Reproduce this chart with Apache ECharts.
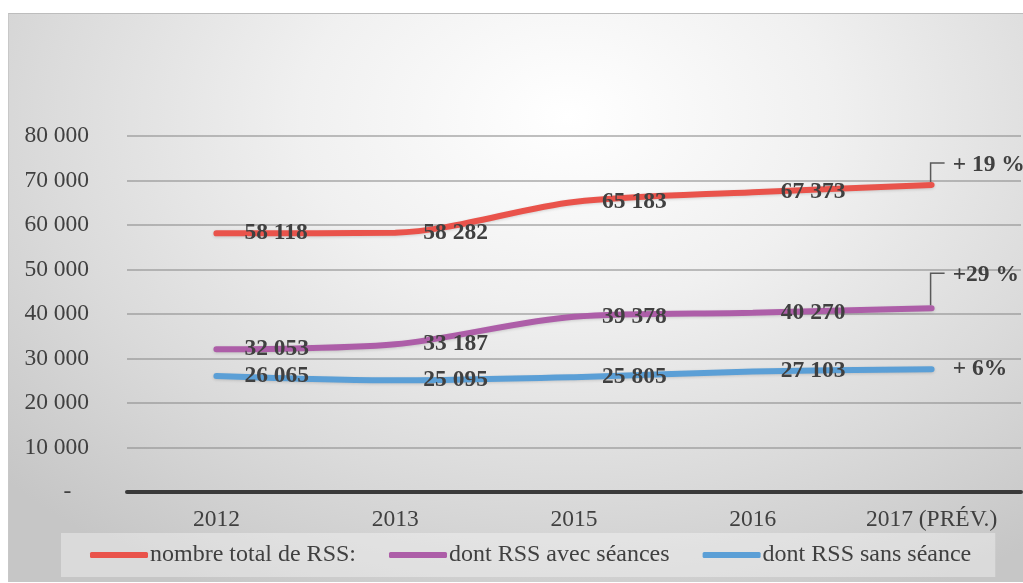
<!DOCTYPE html>
<html>
<head>
<meta charset="utf-8">
<script src="https://cdn.jsdelivr.net/npm/echarts@6/dist/echarts.min.js"></script>
<style>
html,body{margin:0;padding:0;width:1023px;height:583px;background:#fff;overflow:hidden;}
#bg{position:absolute;left:8px;top:13px;width:1015px;height:568px;
 background:radial-gradient(ellipse 75% 95% at 55% 18%, #ffffff 0%, #f0f0f0 35%, #dadada 70%, #c6c6c6 100%);
 border-top:1px solid #bdbdbd;border-left:1px solid #c8c8c8;}
#chart{position:absolute;left:0;top:0;width:1023px;height:583px;}
</style>
</head>
<body>
<div id="bg"></div>
<div id="chart"></div>
<script>
const categories = ['2012', '2013', '2015', '2016', '2017 (PRÉV.)'];
const seriesNames = ['nombre total de RSS:', 'dont RSS avec séances', 'dont RSS sans séance'];
const totalRSS = [58118, 58282, 65183, 67373, 69000];
const avecSeances = [32053, 33187, 39378, 40270, 41300];
const sansSeance = [26065, 25095, 25805, 27103, 27600];
const growthLabels = ['+ 19 %', '+29 %', '+ 6%'];
const yTicks = [0, 10000, 20000, 30000, 40000, 50000, 60000, 70000, 80000];
const colors = ['#e9534b', '#ad5ea8', '#5b9fd6'];

const fmt = v => String(v).replace(/\B(?=(\d{3})+(?!\d))/g, ' ');
const labelOffsets = [[0, -20], [0, -33], [0, 0]];
const leader = [true, true, false];
const dataSets = [totalRSS, avecSeances, sansSeance];
const font = '"Liberation Serif", "Times New Roman", serif';

const chart = echarts.init(document.getElementById('chart'), null, {renderer: 'canvas'});

const series = dataSets.map((d, si) => ({
  name: seriesNames[si],
  type: 'line',
  data: d.map((v, i) => {
    if (i === d.length - 1) {
      return {value: v, label: {formatter: growthLabels[si], distance: 21, offset: labelOffsets[si]}};
    }
    return v;
  }),
  smooth: 0.3,
  symbol: 'circle',
  symbolSize: 0.1,
  color: colors[si],
  lineStyle: {width: 6, color: colors[si], cap: 'round', shadowColor: 'rgba(0,0,0,0.15)', shadowBlur: 3, shadowOffsetY: 1},
  label: {
    show: true,
    position: 'right',
    distance: 28,
    formatter: p => fmt(p.value),
    fontFamily: font,
    fontWeight: 'bold',
    fontSize: 23.5,
    color: '#404040'
  },
  emphasis: {disabled: true},
  z: 3 - si
}));

chart.setOption({
  animation: false,
  backgroundColor: 'transparent',
  grid: {left: 127, right: 2, top: 136, bottom: 91, containLabel: false},
  legend: {
    data: seriesNames,
    left: 61,
    top: 533,
    padding: [10, 24, 10, 29],
    backgroundColor: 'rgba(255,255,255,0.35)',
    itemWidth: 58,
    itemHeight: 6,
    itemGap: 33,
    icon: 'roundRect',
    textStyle: {fontFamily: font, fontSize: 24, color: '#404040', padding: [0, 0, 0, -3]}
  },
  xAxis: {
    type: 'category',
    data: categories,
    boundaryGap: true,
    axisLine: {show: true, lineStyle: {color: '#3a3a3a', width: 4}},
    axisTick: {show: false},
    axisLabel: {fontFamily: font, fontSize: 23.5, color: '#404040', margin: 16}
  },
  yAxis: {
    type: 'value',
    min: 0,
    max: 80000,
    interval: 10000,
    axisLine: {show: false},
    axisTick: {show: false},
    splitLine: {show: true, lineStyle: {color: 'rgba(140,140,140,0.55)', width: 2}},
    axisLabel: {
      fontFamily: font, fontSize: 23.5, color: '#404040', margin: 38,
      formatter: v => yTicks.indexOf(v) >= 0 ? (v === 0 ? '-   ' : fmt(v)) : ''
    }
  },
  series: series
});

// leader lines for the annotated last points
const graphics = [];
dataSets.forEach((d, si) => {
  if (!leader[si]) return;
  const last = d.length - 1;
  const p = chart.convertToPixel({xAxisIndex: 0, yAxisIndex: 0}, [last, d[last]]);
  const topY = p[1] + labelOffsets[si][1] - 2;
  graphics.push({
    type: 'polyline',
    silent: true,
    z: 10,
    shape: {points: [[p[0] - 1, p[1] - 3], [p[0] - 1, topY], [p[0] + 13, topY]]},
    style: {stroke: '#595959', lineWidth: 1.5, fill: null}
  });
});
chart.setOption({graphic: graphics});
</script>
</body>
</html>
